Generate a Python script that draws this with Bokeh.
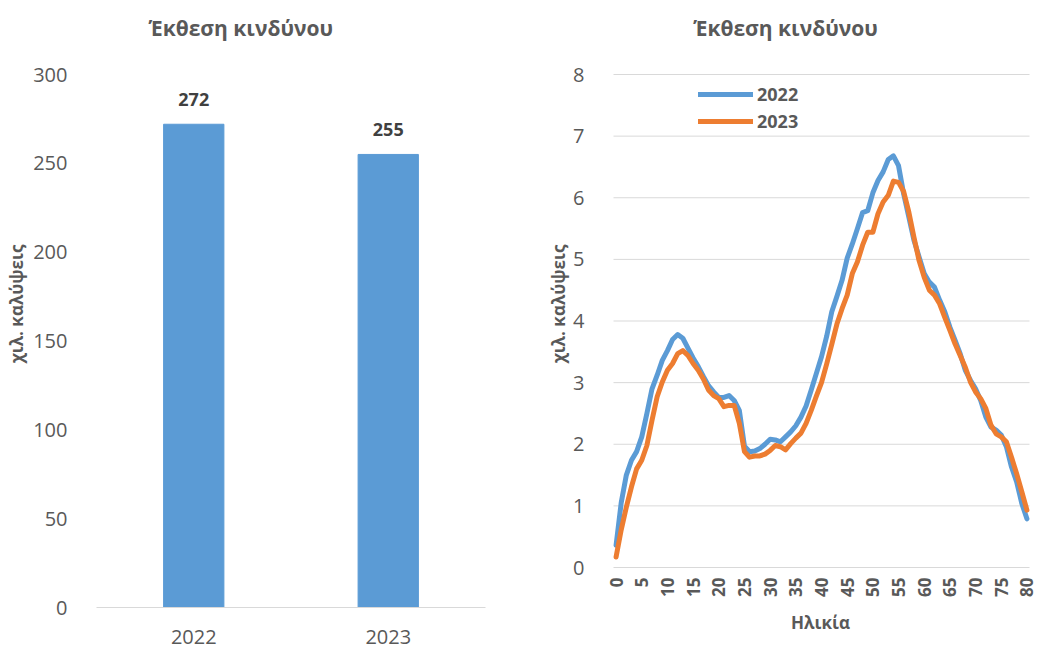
import math
from bokeh.plotting import figure
from bokeh.layouts import row
from bokeh.models import (FactorRange, Range1d, FixedTicker, ColumnDataSource,
                          LabelSet, Legend, LegendItem)
from bokeh.core.properties import value
from bokeh.embed import file_html
from bokeh.resources import INLINE

# ---------------- data ----------------
years = ["2022", "2023"]
totals = [272, 255]

ages = list(range(81))
exposure_2022 = [0.36, 1.05, 1.50, 1.74, 1.88, 2.12, 2.50, 2.90, 3.12, 3.36,
                 3.52, 3.70, 3.78, 3.72, 3.56, 3.40, 3.26, 3.10, 2.95, 2.85,
                 2.76, 2.76, 2.79, 2.71, 2.55, 1.97, 1.88, 1.89, 1.93, 2.00,
                 2.08, 2.07, 2.04, 2.12, 2.20, 2.30, 2.44, 2.62, 2.88, 3.15,
                 3.42, 3.75, 4.15, 4.40, 4.66, 5.02, 5.25, 5.50, 5.76, 5.79,
                 6.08, 6.28, 6.42, 6.62, 6.68, 6.52, 6.06, 5.69, 5.31, 5.04,
                 4.77, 4.63, 4.55, 4.34, 4.15, 3.90, 3.69, 3.47, 3.20, 3.04,
                 2.90, 2.71, 2.44, 2.28, 2.23, 2.15, 1.96, 1.63, 1.39, 1.04,
                 0.79]
exposure_2023 = [0.17, 0.61, 0.98, 1.31, 1.60, 1.74, 1.98, 2.39, 2.77, 3.01,
                 3.20, 3.31, 3.47, 3.52, 3.44, 3.31, 3.20, 3.06, 2.88, 2.79,
                 2.74, 2.61, 2.63, 2.63, 2.34, 1.88, 1.79, 1.81, 1.81, 1.84,
                 1.90, 1.98, 1.96, 1.91, 2.01, 2.10, 2.18, 2.34, 2.55, 2.78,
                 3.00, 3.30, 3.62, 3.95, 4.20, 4.42, 4.77, 4.96, 5.23, 5.44,
                 5.44, 5.74, 5.93, 6.04, 6.27, 6.25, 6.10, 5.77, 5.36, 4.98,
                 4.71, 4.50, 4.42, 4.28, 4.06, 3.85, 3.63, 3.44, 3.25, 3.01,
                 2.85, 2.74, 2.58, 2.31, 2.17, 2.12, 2.04, 1.79, 1.52, 1.23,
                 0.93]

bar_ticks = [0, 50, 100, 150, 200, 250, 300]
line_yticks = [0, 1, 2, 3, 4, 5, 6, 7, 8]
age_ticks = list(range(0, 81, 5))

title_text = "Έκθεση κινδύνου"
ylabel_text = "χιλ. καλύψεις"
xlabel_text = "Ηλικία"

FONT = "Open Sans"
GREY = "#595959"
DARK = "#404040"
BLUE = "#5B9BD5"
ORANGE = "#ED7D31"
GRID = "#D9D9D9"

H = 651
BOTTOM = 44
FRAME_H = H - BOTTOM          # frame runs from the top of the figure


def style_axis(ax, size="20px"):
    ax.major_tick_line_color = None
    ax.minor_tick_line_color = None
    ax.major_label_text_font = FONT
    ax.major_label_text_font_size = size
    ax.major_label_text_color = GREY
    ax.axis_label_text_font = FONT
    ax.axis_label_text_font_size = "17px"
    ax.axis_label_text_font_style = "bold"
    ax.axis_label_text_color = GREY


# ---------------- left: bars ----------------
# value 300 sits 74 px below the top of the frame
bar_px = (FRAME_H - 74) / 300.0
bar_top = 300 + 74 / bar_px
p1 = figure(x_range=FactorRange(*years), y_range=Range1d(0, bar_top),
            width=540, height=H, output_backend="svg", toolbar_location=None,
            title_location=None,
            min_border_left=96, min_border_right=55, min_border_top=0,
            min_border_bottom=BOTTOM)
src = ColumnDataSource(dict(x=years, top=totals, label=[str(v) for v in totals]))
p1.vbar(x="x", top="top", width=0.31, source=src, fill_color=BLUE,
        line_color=BLUE)
p1.add_layout(LabelSet(x="x", y="top", text="label", source=src, y_offset=25,
                       text_align="center", text_baseline="middle",
                       text_font=value(FONT), text_font_size="18px",
                       text_font_style="bold", text_color=DARK))
p1.text(x=[years[0]], y=[300 + 47 / bar_px], text=[title_text], x_offset=47,
        text_align="center", text_baseline="middle", text_font=value(FONT),
        text_font_size="21px", text_font_style="bold", text_color=GREY)

p1.outline_line_color = None
p1.xgrid.grid_line_color = None
p1.ygrid.grid_line_color = None
style_axis(p1.xaxis[0])
style_axis(p1.yaxis[0])
p1.yaxis.ticker = FixedTicker(ticks=bar_ticks)
p1.yaxis.axis_line_color = None
p1.yaxis.major_label_standoff = 23
p1.yaxis.axis_label = ylabel_text
p1.yaxis.axis_label_standoff = 2
p1.xaxis.axis_line_color = GRID
p1.xaxis.axis_line_width = 1
p1.xaxis.major_label_standoff = 16

# ---------------- right: lines ----------------
line_px_y = (567 - 74) / 8.0          # px per unit, 0 at 567, 8 at 74
y_low = 8 - FRAME_H / line_px_y + 74 / line_px_y
y_high = 8 + 74 / line_px_y
px_x = 416 / 81.0                     # categories -0.5 .. 80.5 span 416 px
x_low = -0.5 - 10 / px_x
x_high = 80.5 + 8 / px_x
p2 = figure(x_range=Range1d(x_low, x_high), y_range=Range1d(y_low, y_high),
            width=497, height=H, output_backend="svg", toolbar_location=None,
            title_location=None,
            min_border_left=63, min_border_right=0, min_border_top=0,
            min_border_bottom=BOTTOM)
p2.segment(x0=[-0.5] * len(line_yticks), x1=[80.5] * len(line_yticks),
           y0=line_yticks, y1=line_yticks, line_color=GRID, line_width=1)
r22 = p2.line(ages, exposure_2022, line_color=BLUE, line_width=5,
              line_join="round", line_cap="round")
r23 = p2.line(ages, exposure_2023, line_color=ORANGE, line_width=5,
              line_join="round", line_cap="round")

tick_src = ColumnDataSource(dict(x=age_ticks, y=[0] * len(age_ticks),
                                 t=[str(a) for a in age_ticks]))
p2.add_layout(LabelSet(x="x", y="y", text="t", source=tick_src, angle=math.pi / 2,
                       y_offset=-10, text_align="right", text_baseline="middle",
                       text_font=value(FONT), text_font_size="17px",
                       text_font_style="bold", text_color=GREY))
p2.text(x=[-0.5 + 172 / px_x], y=[8 + 47 / line_px_y], text=[title_text],
        text_align="center", text_baseline="middle", text_font=value(FONT),
        text_font_size="21px", text_font_style="bold", text_color=GREY)

legend = Legend(items=[LegendItem(label="2022", renderers=[r22]),
                       LegendItem(label="2023", renderers=[r23])],
                location=(95, 474), orientation="vertical",
                glyph_width=55, glyph_height=24, label_height=24,
                label_standoff=4, spacing=3, padding=0, margin=0,
                border_line_color=None, background_fill_alpha=0,
                label_text_font=FONT, label_text_font_size="18px",
                label_text_font_style="bold", label_text_color=GREY)
p2.add_layout(legend)

p2.outline_line_color = None
p2.xgrid.grid_line_color = None
p2.ygrid.grid_line_color = None
style_axis(p2.xaxis[0])
style_axis(p2.yaxis[0])
p2.yaxis.ticker = FixedTicker(ticks=line_yticks)
p2.xaxis.ticker = FixedTicker(ticks=[])
p2.yaxis.axis_line_color = None
p2.xaxis.axis_line_color = None
p2.yaxis.major_label_standoff = 13
p2.yaxis.axis_label = ylabel_text
p2.yaxis.axis_label_standoff = 0
p2.xaxis.axis_label = xlabel_text
p2.xaxis.axis_label_standoff = 3

layout = row(p1, p2)
open("out.html", "w").write(file_html(layout, INLINE))
